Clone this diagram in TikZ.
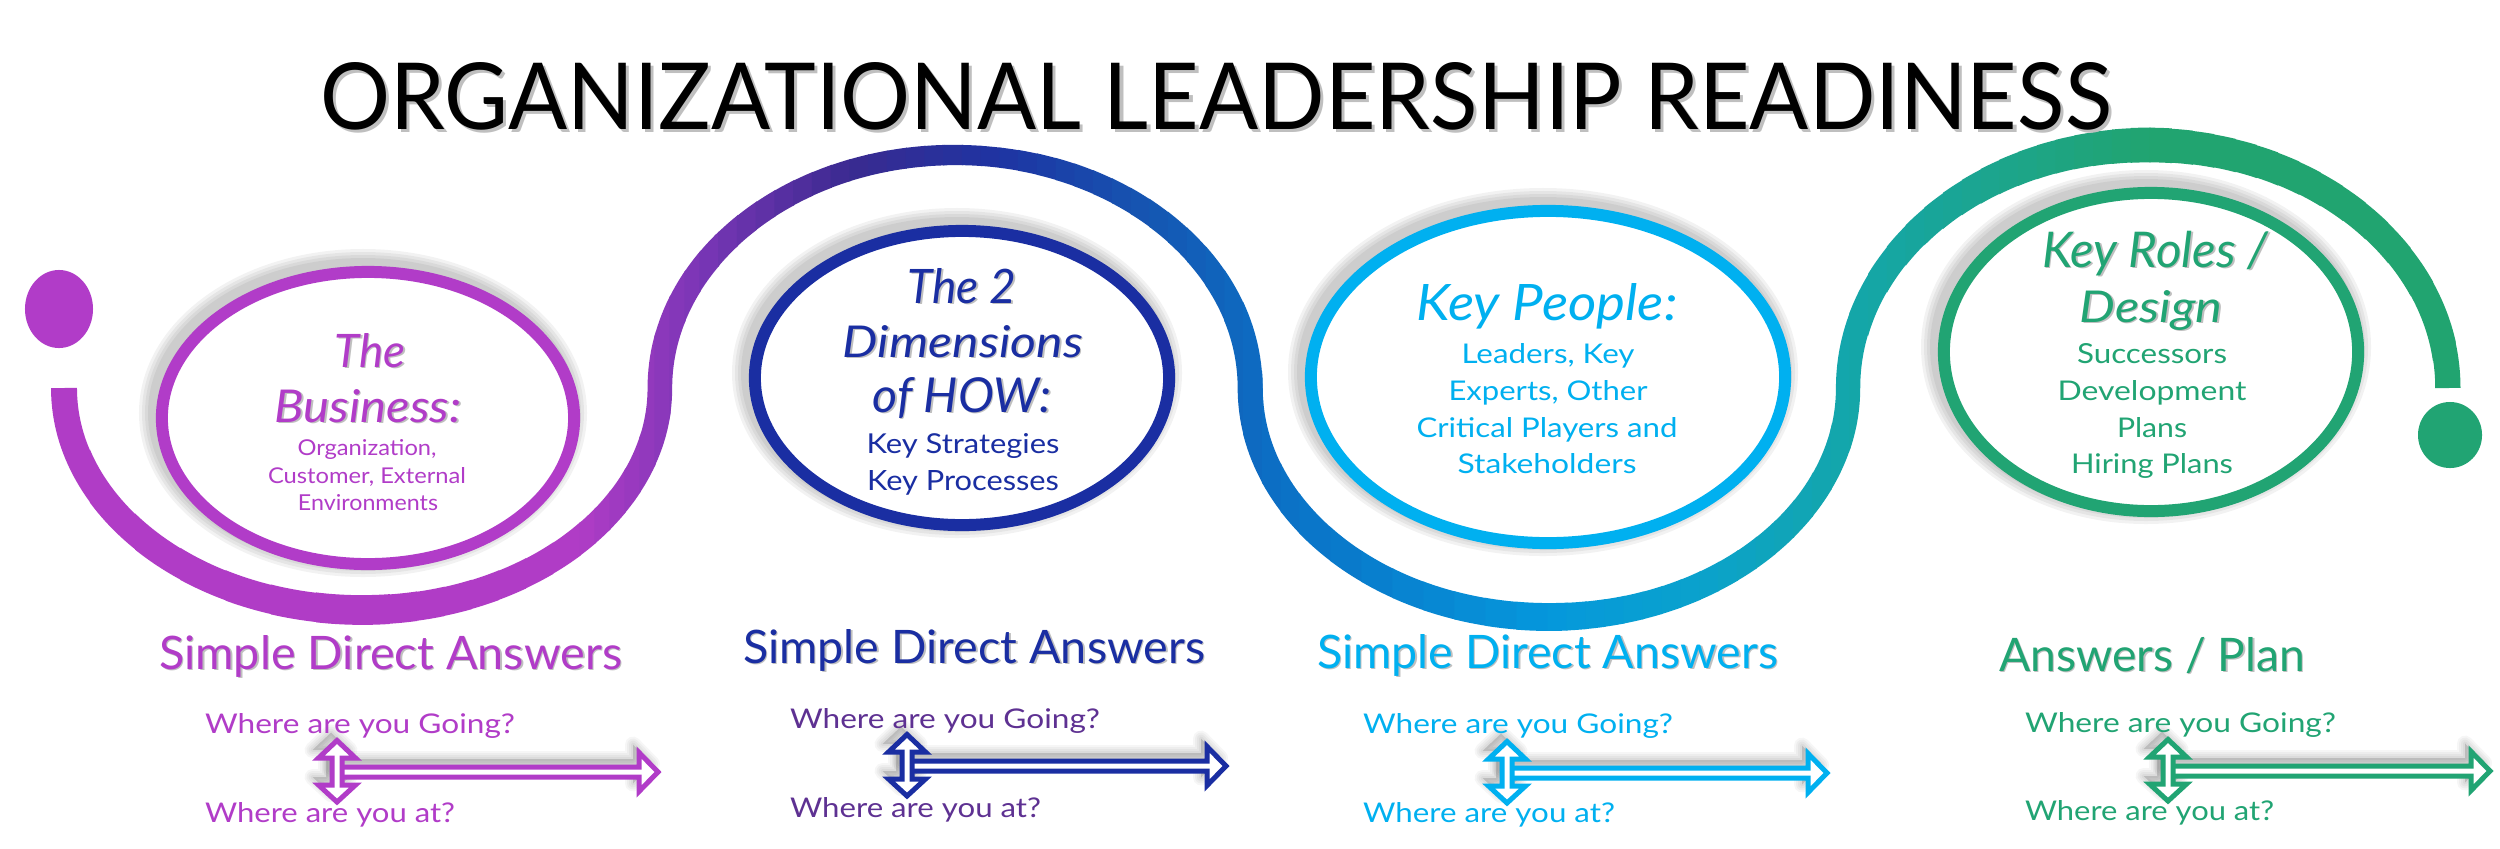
\documentclass[tikz,border=0pt]{standalone}
\usepackage{fontspec}
\setmainfont{Lato}
\usepackage{graphicx}
\usetikzlibrary{shapes.geometric}
\newlength\pxu \setlength\pxu{0.01cm}
\newcommand\fitbox[3]{\resizebox{#1\pxu}{#2\pxu}{#3}}
\newcommand\fitboxw[2]{\resizebox{#1\pxu}{!}{#2}}
\newcommand\shd[1]{\leavevmode\rlap{\kern0.035em\raisebox{-0.035em}{\textcolor{black!25}{#1}}}#1}
\definecolor{cP}{HTML}{B13CC8}
\definecolor{cB}{HTML}{1A2EA2}
\definecolor{cC}{HTML}{00B0F0}
\definecolor{cG}{HTML}{21A473}
\definecolor{cV}{HTML}{5E3192}
\definecolor{sP}{HTML}{B03CC6}
\definecolor{sV}{HTML}{7A36B6}
\definecolor{sD}{HTML}{3A2A90}
\definecolor{sB}{HTML}{1E34A2}
\definecolor{sBb}{HTML}{1556B2}
\definecolor{sBc}{HTML}{0A74C8}
\definecolor{sC}{HTML}{0598DC}
\definecolor{sCb}{HTML}{0AA2CC}
\definecolor{sT}{HTML}{14A6AA}
\definecolor{sGa}{HTML}{1CA58C}
\definecolor{sG}{HTML}{21A470}
\def\strandpath{(64,388) arc[start angle=180,end angle=0,x radius=298,y radius=222]
  arc[start angle=180,end angle=360,x radius=295,y radius=233]
  arc[start angle=180,end angle=0,x radius=299,y radius=229]
  arc[start angle=180,end angle=360,x radius=300,y radius=243]}
\tikzset{
  lbl/.style={anchor=base, inner sep=0pt, outer sep=0pt},
  lblw/.style={anchor=base west, inner sep=0pt, outer sep=0pt},
  ell/.style={ellipse, draw=#1, fill=white, line width=3.41pt, inner sep=0pt},
  blob/.style={ellipse, fill=#1, draw=none, inner sep=0pt},
  qarr/.style={draw=#1, fill=white, line width=1.42pt, line join=miter},
  eshadow/.style={black, opacity=0.05},
  ashadow/.style={black, opacity=0.035, line join=round}
}
\newcommand\qarrow[4]{%
\begin{scope}[shift={(#1,#2)}]
 \foreach \k in {1,...,4}{%
  \pgfmathsetmacro\slw{4*\k*0.2845}
  \begin{scope}[shift={(-6,-8)}]
  \filldraw[ashadow, line width=\slw pt] (0,-5) -- (#3-22,-5) -- (#3-22,-19.5) -- (#3-3,0) -- (#3-22,19.5) -- (#3-22,5) -- (0,5) -- cycle;
  \filldraw[ashadow, line width=\slw pt] (0,-31.5) -- (18.5,-14) -- (5,-14) -- (5,13) -- (18.5,13) -- (0,30) -- (-18.5,13) -- (-5,13) -- (-5,-14) -- (-18.5,-14) -- cycle;
  \end{scope}}
 \draw[qarr=#4] (0,-5) -- (#3-22,-5) -- (#3-22,-19.5) -- (#3-3,0) -- (#3-22,19.5) -- (#3-22,5) -- (0,5) -- cycle;
 \draw[qarr=#4] (0,-31.5) -- (18.5,-14) -- (5,-14) -- (5,13) -- (18.5,13) -- (0,30) -- (-18.5,13) -- (-5,13) -- (-5,-14) -- (-18.5,-14) -- cycle;
\end{scope}}
\newcommand\eshad[4]{%
 \foreach \k in {1,...,4}{%
  \pgfmathsetmacro\slw{(12+6*\k)*0.2845}
  \draw[eshadow, line width=\slw pt] (#1-5,#2-5) ellipse[x radius=#3, y radius=#4];}}
\begin{document}
\begin{tikzpicture}[x=0.01cm,y=-0.01cm]
\useasboundingbox[fill=white] (0,0) rectangle (2500,848);
% strand with colour gradient along x
\foreach \xa/\xb/\cA/\cB/\wa/\wb in {
 0/362/sP/sP/25/30, 362/580/sP/sP/30/26, 580/700/sP/sV/26/24,
 700/850/sV/sD/24/21, 850/1000/sD/sB/21/20, 1000/1150/sB/sBb/20/23,
 1150/1300/sBb/sBc/23/26, 1300/1548/sBc/sC/26/28, 1548/1700/sC/sCb/28/26,
 1700/1850/sCb/sT/26/24, 1850/2000/sT/sGa/24/31, 2000/2150/sGa/sG/31/35,
 2150/2320/sG/sG/35/29, 2320/2500/sG/sG/29/24}{%
 \foreach \k in {0,...,7}{%
  \pgfmathsetmacro\sxl{\xa+(\xb-\xa)*\k/8}
  \pgfmathsetmacro\sxr{\xa+(\xb-\xa)*(\k+1)/8}
  \pgfmathtruncatemacro\spc{100*(\k+0.5)/8}
  \pgfmathsetmacro\slw{(\wa+(\wb-\wa)*(\k+0.5)/8)*0.2845}
  \colorlet{curc}{\cB!\spc!\cA}
  \begin{scope}
   \clip (\sxl-0.7,-20) rectangle (\sxr+0.7,870);
   \draw[curc, line width=\slw pt] \strandpath;
  \end{scope}}}
% end dots
\node[blob=cP, minimum width=0.68cm, minimum height=0.78cm] (dotL) at (59,309) {};
\node[blob=cG, minimum width=0.64cm, minimum height=0.66cm] (dotR) at (2450,435) {};
% ellipse shadows
\eshad{368}{418}{206}{146}
\eshad{962}{378}{207}{147}
\eshad{1548}{377}{237}{166}
\eshad{2151}{352}{207}{159}
% ellipses
\node[ell=cP, minimum width=4.12cm, minimum height=2.92cm] (e1) at (368,418) {};
\node[ell=cB, minimum width=4.14cm, minimum height=2.94cm] (e2) at (962,378) {};
\node[ell=cC, minimum width=4.74cm, minimum height=3.32cm] (e3) at (1548,377) {};
\node[ell=cG, minimum width=4.14cm, minimum height=3.18cm] (e4) at (2151,352) {};
% title
\node[lbl] (title) at (1216,129) {\fitbox{1791}{67}{\shd{ORGANIZATIONAL LEADERSHIP READINESS}}};
% ellipse 1 texts
\node[lbl, text=cP] (e1a) at (370,367) {\fitbox{71}{34}{\itshape\shd{The}}};
\node[lbl, text=cP] (e1b) at (368,422) {\fitbox{187}{33}{\itshape\shd{Business:}}};
\node[lbl, text=cP] (e1c) at (367,455) {\fitbox{139}{16}{Organization,}};
\node[lbl, text=cP] (e1d) at (367,483) {\fitbox{198}{16}{Customer, External}};
\node[lbl, text=cP] (e1e) at (368,510) {\fitbox{140}{16}{Environments}};
% ellipse 2 texts
\node[lbl, text=cB] (e2a) at (962,303) {\fitbox{109}{35}{\itshape\shd{The 2}}};
\node[lbl, text=cB] (e2b) at (963,357) {\fitbox{240}{32}{\itshape\shd{Dimensions}}};
\node[lbl, text=cB] (e2c) at (962,412) {\fitbox{179}{35}{\itshape\shd{of HOW:}}};
\node[lbl, text=cB] (e2d) at (963,453) {\fitbox{193}{20}{Key Strategies}};
\node[lbl, text=cB] (e2e) at (963,490) {\fitbox{192}{20}{Key Processes}};
% ellipse 3 texts
\node[lbl, text=cC] (e3a) at (1547,320) {\fitbox{261}{37}{\itshape Key People:}};
\node[lbl, text=cC] (e3b) at (1548,363) {\fitbox{173}{20}{Leaders, Key}};
\node[lbl, text=cC] (e3c) at (1548,400) {\fitbox{199}{20}{Experts, Other}};
\node[lbl, text=cC] (e3d) at (1547,437) {\fitbox{261}{20}{Critical Players and}};
\node[lbl, text=cC] (e3e) at (1547,473) {\fitbox{179}{20}{Stakeholders}};
% ellipse 4 texts
\node[lbl, text=cG] (e4a) at (2155,267) {\fitboxw{226}{\itshape\shd{Key Roles /}}};
\node[lbl, text=cG] (e4b) at (2151,322) {\fitbox{143}{32}{\itshape\shd{Design}}};
\node[lbl, text=cG] (e4c) at (2152,363) {\fitbox{150}{20}{Successors}};
\node[lbl, text=cG] (e4d) at (2152,400) {\fitbox{189}{20}{Development}};
\node[lbl, text=cG] (e4e) at (2152,437) {\fitbox{70}{20}{Plans}};
\node[lbl, text=cG] (e4f) at (2152,473) {\fitbox{162}{20}{Hiring Plans}};
% bottom headings
\node[lblw, text=cP] (h1) at (159,669) {\fitbox{463}{34}{\shd{Simple Direct Answers}}};
\node[lblw, text=cB] (h2) at (743,663) {\fitbox{462}{34}{\shd{Simple Direct Answers}}};
\node[lblw, text=cC] (h3) at (1317,668) {\fitbox{461}{34}{\shd{Simple Direct Answers}}};
\node[lblw, text=cG] (h4) at (1999,671) {\fitboxw{306}{\shd{Answers / Plan}}};
% arrows
\qarrow{337}{772}{324}{cP}
\qarrow{907}{766}{322}{cB}
\qarrow{1507}{773}{323}{cC}
\qarrow{2168}{771}{325}{cG}
% where texts
\node[lblw, text=cP] (g1) at (205,733) {\fitbox{310}{20}{Where are you Going?}};
\node[lblw, text=cP] (a1) at (205,822) {\fitbox{250}{20}{Where are you at?}};
\node[lblw, text=cV] (g2) at (790,728) {\fitbox{310}{20}{Where are you Going?}};
\node[lblw, text=cV] (a2) at (790,817) {\fitbox{251}{20}{Where are you at?}};
\node[lblw, text=cC] (g3) at (1363,733) {\fitbox{310}{20}{Where are you Going?}};
\node[lblw, text=cC] (a3) at (1363,822) {\fitbox{252}{20}{Where are you at?}};
\node[lblw, text=cG] (g4) at (2025,732) {\fitbox{311}{20}{Where are you Going?}};
\node[lblw, text=cG] (a4) at (2025,820) {\fitbox{249}{20}{Where are you at?}};
\end{tikzpicture}
\end{document}
